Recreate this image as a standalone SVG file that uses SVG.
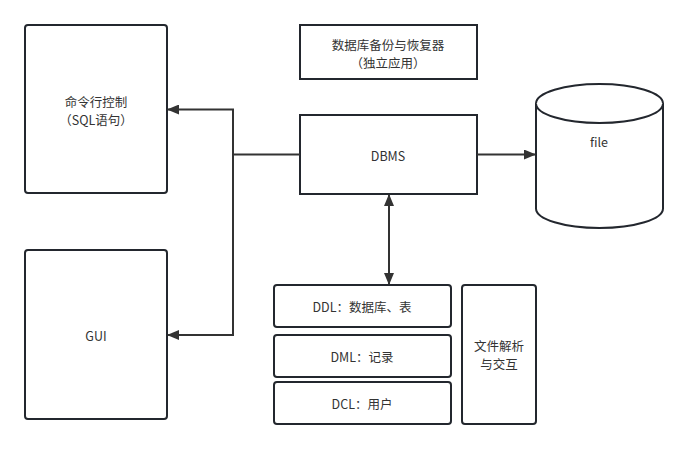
<svg xmlns="http://www.w3.org/2000/svg" width="688" height="449" viewBox="0 0 688 449">
<style>
.n{fill:#fff;stroke:#23272e;stroke-width:2}
.t{font-family:"Noto Sans CJK SC","Liberation Sans",sans-serif;font-size:12.5px;fill:#333;text-anchor:middle;dominant-baseline:central}
.c{fill:none;stroke:#333;stroke-width:2}
</style>
<defs>
<marker id="a" viewBox="0 0 12 10" refX="11" refY="5" markerWidth="12" markerHeight="10" markerUnits="userSpaceOnUse" orient="auto-start-reverse">
<path d="M0,0 L12,5 L0,10 Z" fill="#333"/>
</marker>
</defs>
<rect width="688" height="449" fill="#fff"/>
<g id="cli"><rect class="n" x="25" y="25" width="142" height="168" rx="3"/><text class="t" x="96" y="101">命令行控制</text><text class="t" x="96" y="119">（SQL语句）</text></g>
<g id="gui"><rect class="n" x="25" y="250" width="142" height="169" rx="3"/><text class="t" x="96" y="335">GUI</text></g>
<g id="backup"><rect class="n" x="300" y="25" width="177" height="54"/><text class="t" x="388" y="44">数据库备份与恢复器</text><text class="t" x="388" y="62">（独立应用）</text></g>
<g id="dbms"><rect class="n" x="300" y="115" width="177" height="79"/><text class="t" x="388" y="155">DBMS</text></g>
<g id="file"><path class="n" d="M536,103.5 A63.5,19.5 0 0 1 663,103.5 L663,208.5 A63.5,19.5 0 0 1 536,208.5 Z"/><path class="n" d="M536,103.5 A63.5,19.5 0 0 0 663,103.5" fill="none"/><text class="t" x="599" y="141">file</text></g>
<g id="ddl"><rect class="n" x="274" y="285" width="177" height="42" rx="3"/><text class="t" x="362" y="306">DDL：数据库、表</text></g>
<g id="dml"><rect class="n" x="274" y="335" width="177" height="42" rx="3"/><text class="t" x="362" y="356">DML：记录</text></g>
<g id="dcl"><rect class="n" x="274" y="382" width="177" height="42" rx="3"/><text class="t" x="362" y="403">DCL：用户</text></g>
<g id="parse"><rect class="n" x="462" y="285" width="74" height="139" rx="3"/><text class="t" x="499" y="345">文件解析</text><text class="t" x="499" y="363">与交互</text></g>
<g id="connectors">
<path class="c" d="M300,154.5 L233,154.5"/>
<path class="c" d="M233,335 L233,109.5 L168,109.5" marker-end="url(#a)"/>
<path class="c" d="M233,154.5 L233,335 L168,335" marker-end="url(#a)"/>
<path class="c" d="M477,154.5 L535,154.5" marker-end="url(#a)"/>
<path class="c" d="M389,195 L389,284" marker-start="url(#a)" marker-end="url(#a)"/>
</g>
</svg>
